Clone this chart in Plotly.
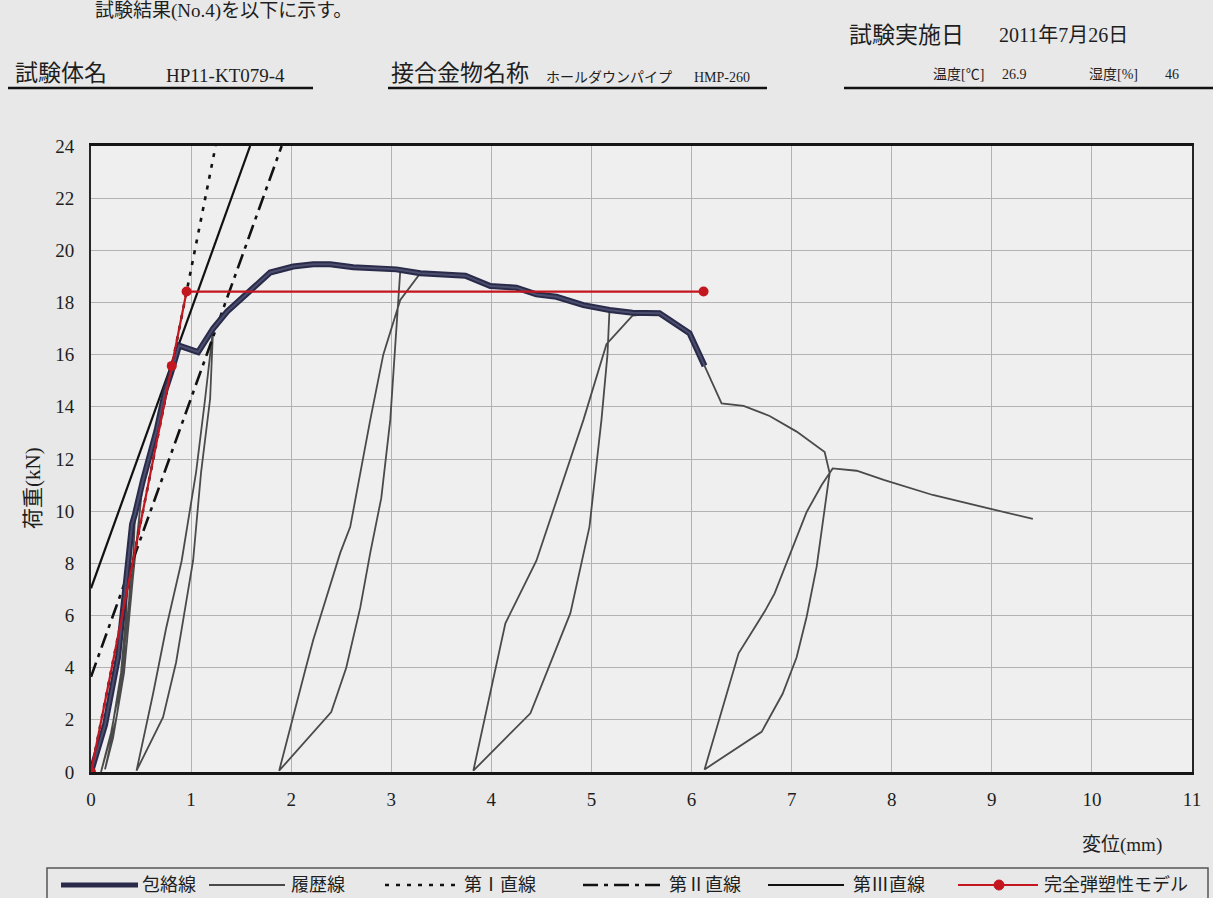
import plotly.graph_objects as go

# ---- data -------------------------------------------------------------
# envelope curve (包絡線): displacement [mm], load [kN]
env_x = [0, 0.14, 0.27, 0.37, 0.41, 0.44, 0.52, 0.655, 0.74, 0.80, 0.88, 1.07,
         1.22, 1.36, 1.56, 1.79, 2.02, 2.22, 2.39, 2.62, 3.05, 3.29, 3.74,
         3.99, 4.25, 4.45, 4.65, 4.92, 5.18, 5.41, 5.68, 5.98, 6.13]
env_y = [0, 1.8, 4.4, 7.9, 9.5, 9.9, 11.2, 13.1, 14.6, 15.3, 16.35, 16.1,
         17.0, 17.65, 18.35, 19.15, 19.38, 19.47, 19.47, 19.35, 19.27, 19.12, 19.03,
         18.63, 18.57, 18.31, 18.22, 17.9, 17.71, 17.61, 17.59, 16.82, 15.57]

# full hysteresis record (履歴線)
hys_x = [0, 0.14, 0.27, 0.37, 0.35, 0.30, 0.20, 0.10,
         0.20, 0.30, 0.38, 0.41, 0.44, 0.42, 0.36, 0.26, 0.14,
         0.22, 0.33, 0.42, 0.52, 0.655, 0.74, 0.80, 0.88, 1.07, 1.22,
         1.19, 1.10, 1.02, 0.85, 0.72, 0.455,
         0.62, 0.75, 0.906, 1.05, 1.14, 1.22, 1.36, 1.56, 1.79, 2.02, 2.22, 2.39, 2.62, 3.09,
         3.07, 3.03, 2.99, 2.90, 2.79, 2.69, 2.55, 2.40, 1.88,
         2.14, 2.22, 2.49, 2.59, 2.79, 2.92, 3.09, 3.29, 3.74, 3.99, 4.25, 4.45, 4.65, 4.92, 5.18,
         5.16, 5.10, 4.98, 4.79, 4.39, 3.82,
         4.14, 4.45, 4.92, 5.15, 5.41, 5.68, 5.98, 6.13, 6.30, 6.52, 6.78, 7.05, 7.33, 7.38,
         7.37, 7.25, 7.15, 7.05, 6.91, 6.70, 6.13,
         6.47, 6.73, 6.83, 6.95, 7.15, 7.30, 7.41, 7.65, 7.92, 8.41, 8.75, 9.11, 9.41]
hys_y = [0, 1.8, 4.4, 7.9, 6.0, 3.8, 1.4, 0.0,
         1.5, 3.5, 6.5, 9.5, 9.9, 8.0, 5.0, 2.2, 0.1,
         1.3, 3.8, 7.5, 11.2, 13.1, 14.6, 15.3, 16.35, 16.1, 17.0,
         14.3, 11.5, 8.1, 4.2, 2.1, 0.05,
         3.0, 5.5, 8.1, 11.5, 14.3, 17.0, 17.65, 18.35, 19.15, 19.38, 19.47, 19.47, 19.35, 19.22,
         18.0, 16.0, 13.5, 10.5, 8.4, 6.3, 4.0, 2.3, 0.05,
         3.9, 5.06, 8.4, 9.4, 13.5, 16.0, 18.1, 19.12, 19.03, 18.63, 18.57, 18.31, 18.22, 17.9, 17.71,
         16.0, 13.5, 9.4, 6.1, 2.25, 0.05,
         5.7, 8.1, 13.5, 16.4, 17.5, 17.59, 16.82, 15.57, 14.13, 14.04, 13.65, 13.05, 12.27, 11.45,
         11.2, 7.87, 5.95, 4.4, 3.0, 1.54, 0.1,
         4.55, 6.15, 6.85, 8.0, 9.97, 11.0, 11.64, 11.55, 11.2, 10.62, 10.3, 9.97, 9.7]

# characteristic straight lines
line1_x = [0.0, 1.245]
line1_y = [0.0, 24.0]
line2_x = [0.0, 1.905]
line2_y = [3.65, 24.0]
line3_x = [0.0, 1.59]
line3_y = [7.04, 24.0]

# perfect elasto-plastic model
model_x = [0.0, 0.807, 0.955, 6.12]
model_y = [0.0, 15.57, 18.42, 18.42]

x_ticks = list(range(0, 12))
y_ticks = list(range(0, 25, 2))

# ---- styles -----------------------------------------------------------
ENV_OUT = "#2a2b4a"
ENV_IN = "#4c4e6e"
HYS = "#4a4a4a"
RED = "#c3161f"
INK = "#1e1e1e"
JP = "Liberation Serif, Noto Sans CJK JP, serif"

fig = go.Figure()

fig.add_trace(go.Scatter(x=hys_x, y=hys_y, mode="lines",
                         line=dict(color=HYS, width=1.8), name="履歴線",
                         showlegend=False))
fig.add_trace(go.Scatter(x=line1_x, y=line1_y, mode="lines",
                         line=dict(color="#111", width=2.6, dash="4px,7px"),
                         name="第Ⅰ直線", showlegend=False))
fig.add_trace(go.Scatter(x=line2_x, y=line2_y, mode="lines",
                         line=dict(color="#111", width=2.6, dash="15px,6px,4px,6px"),
                         name="第Ⅱ直線", showlegend=False))
fig.add_trace(go.Scatter(x=line3_x, y=line3_y, mode="lines",
                         line=dict(color="#111", width=2.2),
                         name="第Ⅲ直線", showlegend=False))
fig.add_trace(go.Scatter(x=env_x, y=env_y, mode="lines",
                         line=dict(color=ENV_OUT, width=6), name="包絡線",
                         showlegend=False))
fig.add_trace(go.Scatter(x=env_x, y=env_y, mode="lines",
                         line=dict(color=ENV_IN, width=2), hoverinfo="skip",
                         showlegend=False))
fig.add_trace(go.Scatter(x=model_x, y=model_y, mode="lines+markers",
                         line=dict(color=RED, width=2.2),
                         marker=dict(color=RED, size=10),
                         name="完全弾塑性モデル", showlegend=False))

# ---- layout helpers (pixel -> paper) ---------------------------------
L, R, T, B = 91, 1192, 146, 772


def px(x):
    return (x - L) / (R - L)


def py(y):
    return (B - y) / (B - T)


annotations = []


def text(x, y, s, size, anchor="left", family=JP, angle=0):
    annotations.append(dict(x=px(x), y=py(y), xref="paper", yref="paper",
                            text=s, showarrow=False, xanchor=anchor,
                            yanchor="middle", textangle=angle,
                            font=dict(family=family, size=size, color=INK)))


# header block
text(93, 11, "試験結果(No.4)を以下に示す。", 19)
text(13, 73, "試験体名", 23)
text(164, 75, "HP11-KT079-4", 19, family="Liberation Serif")
text(389, 73, "接合金物名称", 23)
text(544, 78, "ホールダウンパイプ", 14)
text(692, 78, "HMP-260", 14, family="Liberation Serif")
text(847, 35, "試験実施日", 23)
text(997, 35, "2011年7月26日", 20)
text(931, 74, "温度[℃]", 14)
text(1000, 74, "26.9", 14, family="Liberation Serif")
text(1087, 74, "湿度[%]", 14)
text(1163, 74, "46", 14, family="Liberation Serif")

# axis titles
text(33, 488, "荷重(kN)", 21, anchor="center", angle=-90)
text(1122, 845, "変位(mm)", 19, anchor="center")

shapes = []
for x0, x1 in [(8, 313), (388, 767), (844, 1215)]:
    shapes.append(dict(type="line", xref="paper", yref="paper",
                       x0=px(x0), x1=px(x1), y0=py(88), y1=py(88),
                       line=dict(color="#111", width=2.6)))

# legend row
shapes.append(dict(type="rect", xref="paper", yref="paper",
                   x0=px(47), x1=px(1208), y0=py(868), y1=py(910),
                   line=dict(color="#555", width=1.5), fillcolor="rgba(0,0,0,0)"))
LY = 885
legend_items = [
    (61, 138, dict(color=ENV_OUT, width=5), 140, "包絡線"),
    (209, 285, dict(color=HYS, width=1.8), 289, "履歴線"),
    (385, 458, dict(color="#111", width=2.6, dash="4px,7px"), 462, "第Ⅰ直線"),
    (583, 660, dict(color="#111", width=2.6, dash="15px,6px,4px,6px"), 667, "第Ⅱ直線"),
    (768, 844, dict(color="#111", width=2.2), 851, "第Ⅲ直線"),
    (958, 1038, dict(color=RED, width=2.2), 1042, "完全弾塑性モデル"),
]
for x0, x1, ln, tx, label in legend_items:
    shapes.append(dict(type="line", xref="paper", yref="paper",
                       x0=px(x0), x1=px(x1), y0=py(LY), y1=py(LY), line=ln))
    text(tx, LY, label, 18)
shapes.append(dict(type="circle", xref="paper", yref="paper",
                   x0=px(994), x1=px(1004), y0=py(890), y1=py(880),
                   fillcolor=RED, line=dict(color=RED, width=1)))

fig.update_layout(
    width=1213, height=898,
    margin=dict(l=L, r=1213 - R, t=T, b=898 - B),
    paper_bgcolor="#e8e8e8",
    plot_bgcolor="#efefef",
    showlegend=False,
    annotations=annotations,
    shapes=shapes,
    font=dict(family=JP, color=INK),
)
fig.update_xaxes(range=[0, 11], tickvals=x_ticks, ticktext=[str(v) for v in x_ticks],
                 showgrid=True, gridcolor="#b2b2b2", gridwidth=1,
                 showline=True, linecolor="#161616", linewidth=2.5, mirror=True,
                 zeroline=False, ticks="", ticklabelstandoff=8,
                 tickfont=dict(family="Liberation Serif", size=19, color=INK))
fig.update_yaxes(range=[0, 24], tickvals=y_ticks, ticktext=[str(v) for v in y_ticks],
                 showgrid=True, gridcolor="#b2b2b2", gridwidth=1,
                 showline=True, linecolor="#262626", linewidth=2, mirror=True,
                 zeroline=False, ticks="", ticklabelstandoff=11,
                 tickfont=dict(family="Liberation Serif", size=19, color=INK))

fig.write_html("out.html")
